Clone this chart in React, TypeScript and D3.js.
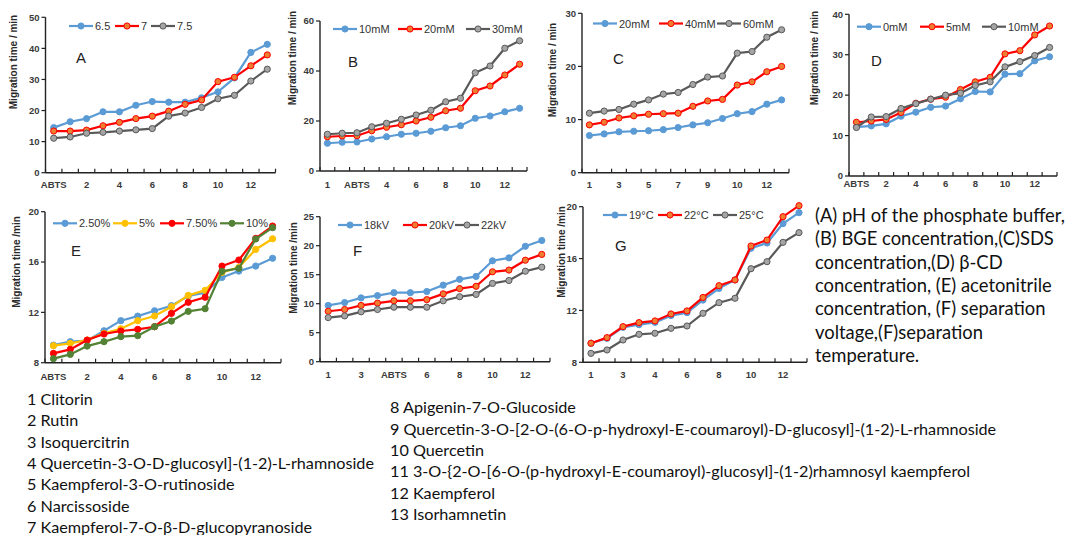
import React from 'react';
import * as d3 from 'd3';

// category order on each x axis (ABTS sits at a different place per panel)
const catsA = ['ABTS', '1', '2', '3', '4', '5', '6', '7', '8', '9', '10', '11', '12', '13'];
const catsB = ['1', '2', 'ABTS', '3', '4', '5', '6', '7', '8', '9', '10', '11', '12', '13'];
const catsC = ['1', '2', '3', '4', '5', '6', '7', '8', '9', 'ABTS', '10', '11', '12', '13'];
const catsF = ['1', '2', '3', '4', 'ABTS', '5', '6', '7', '8', '9', '10', '11', '12', '13'];
const catsG = ['1', '2', '3', 'ABTS', '4', '5', '6', '7', '8', '9', '10', '11', '12', '13'];

// A: pH
const a65 = [14.5, 16.4, 17.4, 19.6, 19.6, 21.7, 22.9, 22.7, 22.7, 24.1, 26.0, 30.5, 38.7, 41.3];
const a7 = [13.4, 13.4, 13.7, 15.1, 16.2, 17.4, 18.2, 19.8, 22.0, 23.4, 29.3, 30.7, 34.4, 37.9];
const a75 = [11.1, 11.5, 12.7, 13.0, 13.4, 13.8, 14.2, 18.2, 19.2, 21.0, 23.8, 24.9, 29.5, 33.3];

// B: BGE
const b10 = [11.1, 11.5, 11.6, 12.8, 13.7, 14.7, 15.1, 15.9, 17.3, 18.1, 21.1, 22.0, 23.7, 25.1];
const b20 = [13.7, 14.0, 14.1, 16.1, 17.5, 18.5, 20.0, 21.5, 24.1, 25.1, 32.1, 34.0, 38.4, 42.7];
const b30 = [14.7, 15.1, 15.3, 17.7, 19.1, 20.7, 22.4, 24.3, 27.7, 29.1, 39.3, 42.0, 49.1, 52.1];

// C: SDS
const c20 = [7.0, 7.3, 7.7, 7.8, 7.9, 8.1, 8.5, 9.0, 9.4, 10.2, 11.1, 11.5, 12.9, 13.7];
const c40 = [9.0, 9.5, 10.3, 10.7, 11.0, 11.1, 11.2, 12.5, 13.5, 13.8, 16.5, 17.1, 19.0, 20.0];
const c60 = [11.2, 11.6, 11.9, 12.9, 13.7, 14.8, 15.1, 16.6, 18.0, 18.2, 22.5, 22.8, 25.5, 26.9];

// D: beta-CD
const d0 = [12.1, 12.4, 12.9, 14.8, 15.8, 17.0, 17.3, 19.1, 20.9, 20.8, 25.2, 25.3, 28.5, 29.5];
const d5 = [13.3, 13.6, 14.0, 15.7, 18.0, 19.0, 19.5, 21.4, 23.3, 24.4, 30.2, 31.0, 34.9, 37.1];
const d10 = [12.0, 14.6, 14.7, 16.7, 17.9, 19.0, 20.0, 20.5, 22.4, 23.3, 27.0, 28.3, 29.8, 31.8];

// E: acetonitrile
const e25 = [9.4, 9.67, 9.75, 10.54, 11.34, 11.7, 12.13, 12.53, 13.3, 13.56, 14.78, 15.28, 15.68, 16.3];
const e5 = [9.35, 9.54, 9.8, 10.33, 10.7, 11.34, 11.71, 12.45, 13.35, 13.75, 15.18, 15.58, 17.0, 17.85];
const e75 = [8.74, 9.06, 9.8, 10.28, 10.52, 10.65, 10.86, 11.92, 12.8, 13.2, 15.68, 16.16, 17.88, 18.86];
const e10 = [8.32, 8.66, 9.32, 9.67, 10.07, 10.15, 10.86, 11.31, 12.08, 12.29, 15.26, 15.5, 17.83, 18.73];

// F: voltage
const f18 = [9.7, 10.2, 11.0, 11.4, 11.9, 11.9, 12.1, 13.2, 14.2, 14.7, 17.4, 17.9, 19.9, 20.9];
const f20 = [8.7, 9.0, 9.7, 10.1, 10.5, 10.5, 10.7, 11.7, 12.6, 13.0, 15.5, 15.8, 17.5, 18.5];
const f22 = [7.6, 7.9, 8.6, 9.0, 9.4, 9.4, 9.4, 10.5, 11.2, 11.6, 13.5, 14.0, 15.6, 16.3];

// G: temperature
const g19 = [9.47, 9.85, 10.7, 10.9, 11.08, 11.6, 11.83, 12.8, 13.7, 14.35, 16.8, 17.2, 18.7, 19.54];
const g22 = [9.47, 9.9, 10.75, 11.06, 11.19, 11.73, 11.96, 13.0, 13.91, 14.35, 16.97, 17.43, 19.23, 20.08];
const g25 = [8.69, 8.95, 9.72, 10.16, 10.24, 10.62, 10.8, 11.78, 12.6, 12.94, 15.22, 15.76, 17.25, 18.0];

const captionLines = [
  '(A) pH of the phosphate buffer,',
  '(B) BGE concentration,(C)SDS',
  'concentration,(D) \u03b2-CD',
  'concentration, (E) acetonitrile',
  'concentration, (F) separation',
  'voltage,(F)separation',
  'temperature.',
];

const compoundsLeft = [
  '1 Clitorin',
  '2 Rutin',
  '3 Isoquercitrin',
  '4 Quercetin-3-O-D-glucosyl]-(1-2)-L-rhamnoside',
  '5 Kaempferol-3-O-rutinoside',
  '6 Narcissoside',
  '7 Kaempferol-7-O-\u03b2-D-glucopyranoside',
];
const compoundsRight = [
  '8 Apigenin-7-O-Glucoside',
  '9 Quercetin-3-O-[2-O-(6-O-p-hydroxyl-E-coumaroyl)-D-glucosyl]-(1-2)-L-rhamnoside',
  '10 Quercetin',
  '11 3-O-{2-O-[6-O-(p-hydroxyl-E-coumaroyl)-glucosyl]-(1-2)rhamnosyl kaempferol',
  '12 Kaempferol',
  '13 Isorhamnetin',
];

const BLUE = { line: '#5B9BD5', fill: '#5B9BD5', stroke: '#5B9BD5' };
const RED = { line: '#FF0000', fill: '#ED7D31', stroke: '#FF0000' };
const GRAY = { line: '#595959', fill: '#A5A5A5', stroke: '#595959' };
const YELLOW = { line: '#FFC000', fill: '#FFC000', stroke: '#FFC000' };
const REDF = { line: '#FF0000', fill: '#FF0000', stroke: '#FF0000' };
const GREEN = { line: '#548235', fill: '#548235', stroke: '#548235' };

type Series = { name: string; values: number[]; style: typeof BLUE; lx: number };

type PanelProps = {
  letter: string;
  letterX: number;
  letterY: number;
  left: number;
  right: number;
  yTop: number;
  yBottom: number;
  domain: [number, number];
  ticks: number[];
  cats: string[];
  series: Series[];
  legendY: number;
  titleX: number;
  titleY: number;
  title: string;
  labelY: number;
};

const Panel = (p: PanelProps) => {
  const x = d3.scaleBand<string>().domain(p.cats).range([p.left, p.right]);
  const y = d3.scaleLinear().domain(p.domain).range([p.yBottom, p.yTop]);
  const bw = x.bandwidth();
  const cx = (i: number) => (x(p.cats[i]) as number) + bw / 2;
  const line = d3
    .line<number>()
    .x((d, i) => cx(i))
    .y(d => y(d));

  return (
    <g>
      {/* axes */}
      <line x1={p.left} x2={p.left} y1={p.yTop} y2={p.yBottom} stroke="#222" strokeWidth={1.4} />
      <line x1={p.left} x2={p.right} y1={p.yBottom} y2={p.yBottom} stroke="#222" strokeWidth={1.4} />
      {p.ticks.map(t => (
        <g key={t}>
          <line x1={p.left - 4} x2={p.left} y1={y(t)} y2={y(t)} stroke="#222" strokeWidth={1.2} />
          <text
            x={p.left - 6}
            y={y(t) + 3.3}
            textAnchor="end"
            fontSize={9.5}
            fontWeight="bold"
            fill="#3a3a3a"
          >
            {t}
          </text>
        </g>
      ))}
      {d3.range(p.cats.length + 1).map(i => (
        <line
          key={i}
          x1={p.left + i * bw}
          x2={p.left + i * bw}
          y1={p.yBottom - 4}
          y2={p.yBottom}
          stroke="#222"
          strokeWidth={1.2}
        />
      ))}
      {p.cats.map((c, i) =>
        i % 2 === 0 ? (
          <text
            key={c}
            x={cx(i)}
            y={p.labelY}
            textAnchor="middle"
            fontSize={9.5}
            fontWeight="bold"
            fill="#3a3a3a"
          >
            {c}
          </text>
        ) : null
      )}
      <text
        transform={`translate(${p.titleX},${p.titleY}) rotate(-90)`}
        textAnchor="middle"
        fontSize={10}
        fontWeight="bold"
        fill="#2a2a2a"
      >
        {p.title}
      </text>
      <text x={p.letterX} y={p.letterY} fontSize={15} fill="#222">
        {p.letter}
      </text>

      {/* series */}
      {p.series.map(s => (
        <g key={s.name}>
          <path d={line(s.values) || ''} fill="none" stroke={s.style.line} strokeWidth={2.2} />
          {s.values.map((v, i) => (
            <circle
              key={i}
              cx={cx(i)}
              cy={y(v)}
              r={3.1}
              fill={s.style.fill}
              stroke={s.style.stroke}
              strokeWidth={1}
            />
          ))}
        </g>
      ))}

      {/* legend */}
      {p.series.map(s => (
        <g key={'lg' + s.name}>
          <line x1={s.lx} x2={s.lx + 24} y1={p.legendY} y2={p.legendY} stroke={s.style.line} strokeWidth={2.2} />
          <circle cx={s.lx + 12} cy={p.legendY} r={3.1} fill={s.style.fill} stroke={s.style.stroke} strokeWidth={1} />
          <text x={s.lx + 26} y={p.legendY + 4} fontSize={11} fill="#333">
            {s.name}
          </text>
        </g>
      ))}
    </g>
  );
};

const App = () => {
  const font = 'Arial, "Liberation Sans", sans-serif';
  const textFont = 'Lato, "Open Sans", sans-serif';
  return (
    <svg
      width={1069}
      height={535}
      style={{ position: 'absolute', left: 0, top: 0, background: '#fff', fontFamily: font }}
    >
      <Panel
        letter="A" letterX={76} letterY={63}
        left={45.5} right={275.5} yTop={17.3} yBottom={172.7}
        domain={[0, 50]} ticks={[0, 10, 20, 30, 40, 50]} cats={catsA}
        series={[
          { name: '6.5', values: a65, style: BLUE, lx: 69 },
          { name: '7', values: a7, style: RED, lx: 115 },
          { name: '7.5', values: a75, style: GRAY, lx: 151 },
        ]}
        legendY={26} titleX={17} titleY={62} title="Migration time / min" labelY={188}
      />
      <Panel
        letter="B" letterX={348} letterY={67}
        left={320} right={527} yTop={21} yBottom={171}
        domain={[0, 60]} ticks={[0, 20, 40, 60]} cats={catsB}
        series={[
          { name: '10mM', values: b10, style: BLUE, lx: 333 },
          { name: '20mM', values: b20, style: RED, lx: 398 },
          { name: '30mM', values: b30, style: GRAY, lx: 466 },
        ]}
        legendY={29} titleX={296} titleY={58} title="Migration time / min" labelY={188}
      />
      <Panel
        letter="C" letterX={613} letterY={64}
        left={582} right={789} yTop={13.3} yBottom={172.7}
        domain={[0, 30]} ticks={[0, 10, 20, 30]} cats={catsC}
        series={[
          { name: '20mM', values: c20, style: BLUE, lx: 593 },
          { name: '40mM', values: c40, style: RED, lx: 659 },
          { name: '60mM', values: c60, style: GRAY, lx: 717 },
        ]}
        legendY={23.5} titleX={556} titleY={70} title="Migration time / min" labelY={188}
      />
      <Panel
        letter="D" letterX={871} letterY={66}
        left={849} right={1057} yTop={14.3} yBottom={176}
        domain={[0, 40]} ticks={[0, 10, 20, 30, 40]} cats={catsA}
        series={[
          { name: '0mM', values: d0, style: BLUE, lx: 857 },
          { name: '5mM', values: d5, style: RED, lx: 920 },
          { name: '10mM', values: d10, style: GRAY, lx: 982 },
        ]}
        legendY={26.7} titleX={818} titleY={58} title="Migration time / min" labelY={187}
      />
      <Panel
        letter="E" letterX={71} letterY={256}
        left={45} right={281} yTop={211.7} yBottom={362.7}
        domain={[8, 20]} ticks={[8, 12, 16, 20]} cats={catsA}
        series={[
          { name: '2.50%', values: e25, style: BLUE, lx: 53 },
          { name: '5%', values: e5, style: YELLOW, lx: 113 },
          { name: '7.50%', values: e75, style: REDF, lx: 160 },
          { name: '10%', values: e10, style: GREEN, lx: 220 },
        ]}
        legendY={223.3} titleX={20} titleY={262} title="Migration time /min" labelY={380}
      />
      <Panel
        letter="F" letterX={353} letterY={256}
        left={320} right={550} yTop={216.7} yBottom={361.7}
        domain={[0, 25]} ticks={[0, 5, 10, 15, 20, 25]} cats={catsF}
        series={[
          { name: '18kV', values: f18, style: BLUE, lx: 338 },
          { name: '20kV', values: f20, style: RED, lx: 403 },
          { name: '22kV', values: f22, style: GRAY, lx: 455 },
        ]}
        legendY={225} titleX={297} titleY={268} title="Migration time /min" labelY={378}
      />
      <Panel
        letter="G" letterX={615} letterY={251}
        left={583} right={807} yTop={206.7} yBottom={362.3}
        domain={[8, 20]} ticks={[8, 12, 16, 20]} cats={catsG}
        series={[
          { name: '19°C', values: g19, style: BLUE, lx: 603 },
          { name: '22°C', values: g22, style: RED, lx: 658 },
          { name: '25°C', values: g25, style: GRAY, lx: 713 },
        ]}
        legendY={215} titleX={565} titleY={252} title="Migration time /min" labelY={378}
      />

      <g fontFamily={textFont} fill="#111">
        {captionLines.map((t, i) => (
          <text key={t} x={815} y={222 + i * 23.3} fontSize={18.4}>
            {t}
          </text>
        ))}
        {compoundsLeft.map((t, i) => (
          <text key={t} x={27} y={405 + i * 21.3} fontSize={16.2}>
            {t}
          </text>
        ))}
        {compoundsRight.map((t, i) => (
          <text key={t} x={390} y={413.3 + i * 21.35} fontSize={16.2}>
            {t}
          </text>
        ))}
      </g>
    </svg>
  );
};

export default App;
